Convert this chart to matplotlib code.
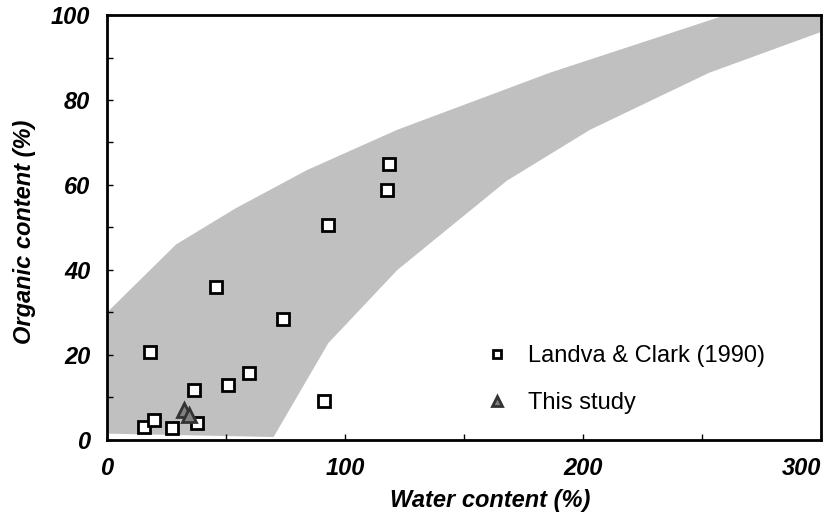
import numpy as np
import matplotlib.pyplot as plt

plt.rcParams['font.family'] = ['Liberation Sans', 'DejaVu Sans']

# gray envelope (upper edge left->right, then lower edge right->left)
env_x = [0, 29, 54, 84, 122, 165, 186, 260, 300, 300, 253, 203, 168, 122, 93, 70, 0]
env_y = [30, 46, 54.5, 63.5, 73, 82, 86.4, 100, 100, 96, 86.4, 73, 61, 40, 22.8, 0.7, 1.5]

# Landva & Clark (1990)
lc_w = [18, 36.6, 51, 59.8, 73.8, 15.5, 19.9, 27.4, 37.7, 45.7, 93, 117.8, 118.6, 91]
lc_org = [20.7, 11.8, 12.9, 15.8, 28.4, 3, 4.7, 2.9, 4, 36, 50.6, 58.8, 64.9, 9.2]

# This study
ts_w = [32.4, 34.5]
ts_org = [7, 5.9]

fig = plt.figure(figsize=(8.36, 5.21), dpi=100)
ax = fig.add_axes([0.128, 0.1555, 0.854, 0.8157])

ax.fill(env_x, env_y, color='#c0c0c0', lw=0, zorder=1)
ax.plot(lc_w, lc_org, 's', ms=8, mfc='white', mec='black', mew=2,
        label='Landva & Clark (1990)', zorder=3)
ax.plot(ts_w, ts_org, '^', ms=10, mfc='#808080', mec='#333333', mew=2,
        label='This study', zorder=4)

ax.set_xlim(0, 300)
ax.set_ylim(0, 100)
ax.set_xticks(np.arange(0, 301, 50))
ax.set_xticklabels(['0', '', '100', '', '200', '', '300'])
ax.set_yticks(np.arange(0, 101, 10))
ax.set_yticklabels(['0', '', '20', '', '40', '', '60', '', '80', '', '100'])
ax.tick_params(direction='in', length=4, width=1, labelsize=17, pad=12)
for lab in ax.get_xticklabels() + ax.get_yticklabels():
    lab.set_fontweight('bold')
    lab.set_fontstyle('italic')
ax.get_xticklabels()[-1].set_horizontalalignment('right')
for s in ax.spines.values():
    s.set_linewidth(2)

ax.set_xlabel('Water content (%)', fontsize=17, fontweight='bold',
              fontstyle='italic')
ax.set_ylabel('Organic content (%)', fontsize=17, fontweight='bold',
              fontstyle='italic')
ax.xaxis.set_label_coords(0.537, -0.115)
ax.yaxis.set_label_coords(-0.1, 0.49)

ax.legend(loc='upper left', bbox_to_anchor=(0.5, 0.245), frameon=False,
          fontsize=17, handletextpad=0.3, labelspacing=1.05, markerscale=0.75,
          borderaxespad=0)

fig.savefig('out.png', dpi=100)
